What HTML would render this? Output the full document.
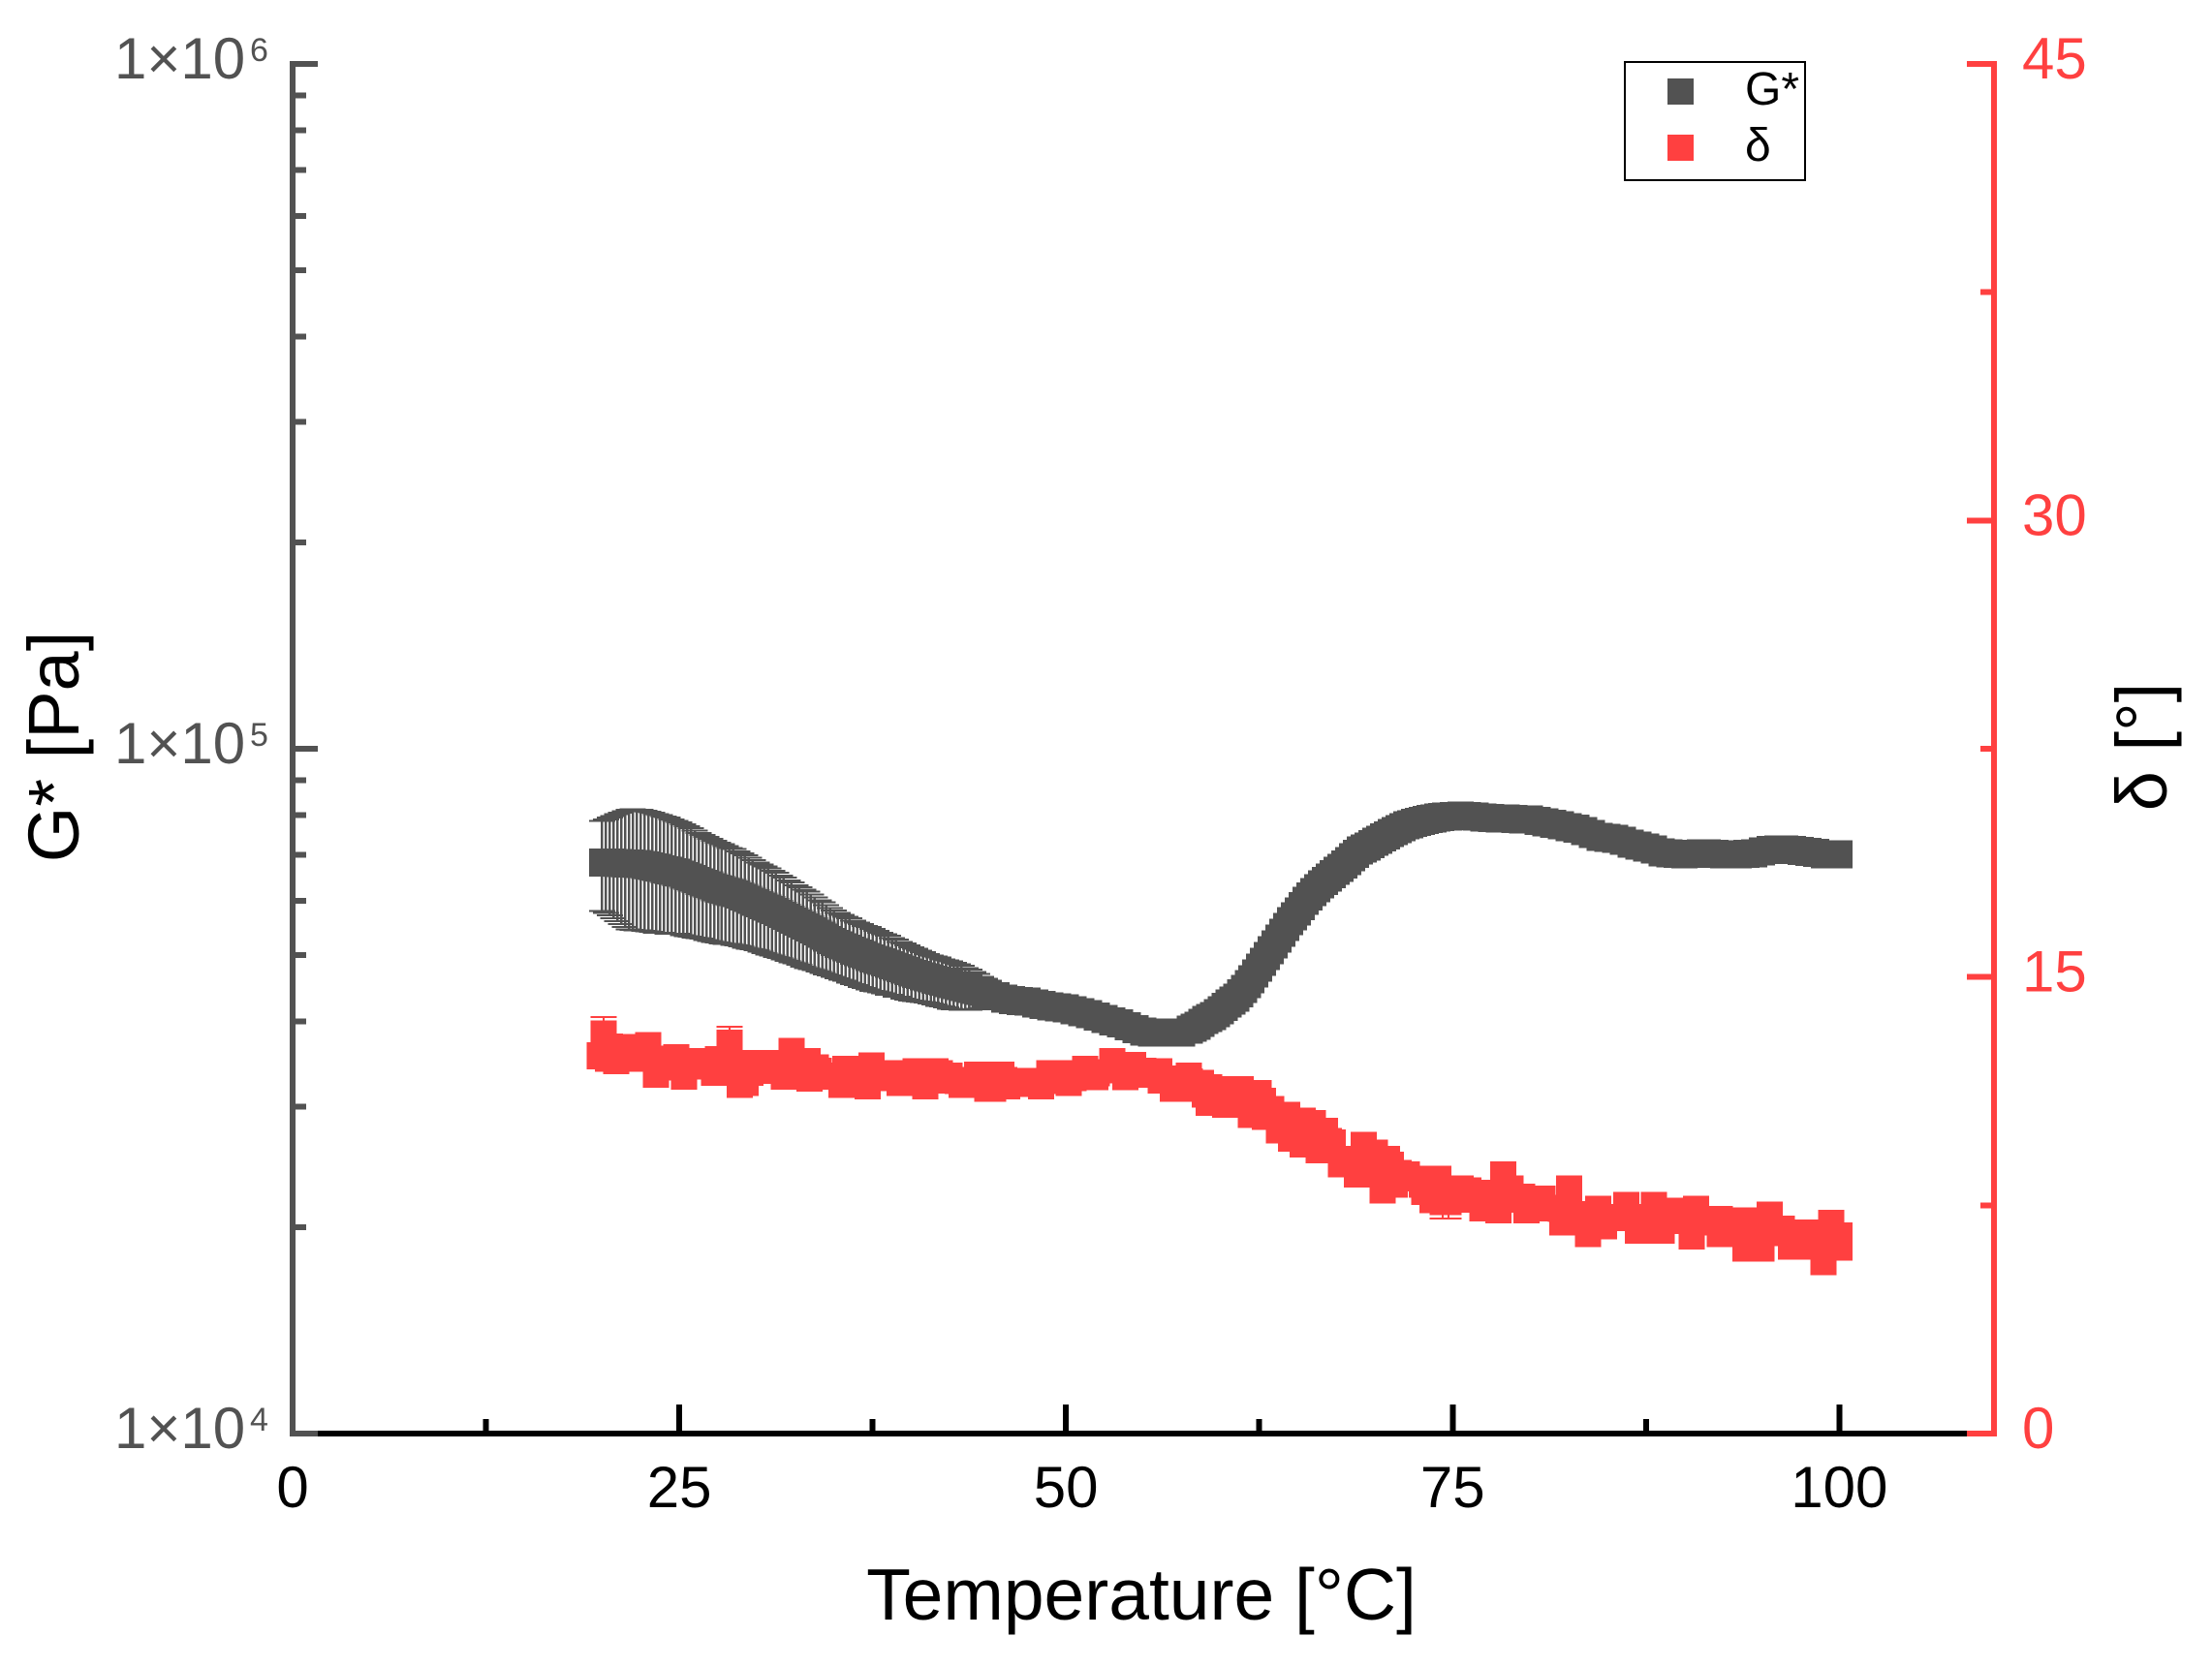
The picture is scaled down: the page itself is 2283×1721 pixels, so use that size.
<!DOCTYPE html>
<html lang="en">
<head>
<meta charset="utf-8">
<title>G* and δ versus Temperature</title>
<style>
html,body{margin:0;padding:0;background:#fff;}
svg{display:block;}
text{font-family:"Liberation Sans","DejaVu Sans",sans-serif;}
</style>
</head>
<body>
<svg id="chart" xmlns="http://www.w3.org/2000/svg" width="2283" height="1721" viewBox="0 0 2283 1721">
  <rect x="0" y="0" width="2283" height="1721" fill="#ffffff"/>
  <g id="x-axis-layer"></g>
  <g id="g-error-layer"></g>
  <g id="g-point-layer"></g>
  <g id="delta-error-layer"></g>
  <g id="delta-point-layer"></g>
  <g id="left-axis-layer"></g>
  <g id="right-axis-layer"></g>
  <text x="1178" y="1672" font-size="75" text-anchor="middle" fill="#000">Temperature [°C]</text>
  <text transform="translate(81 771) rotate(-90)" font-size="74" text-anchor="middle" fill="#000">G* [Pa]</text>
  <text transform="translate(2236 771) rotate(-90)" font-size="74" text-anchor="middle" fill="#000">δ [°]</text>
  <g>
    <rect x="1677" y="64" width="186" height="122" fill="#fff" stroke="#000" stroke-width="2"/>
    <rect x="1721" y="81" width="27" height="27" fill="#525252"/>
    <text x="1801" y="108" font-size="48" fill="#000">G*</text>
    <rect x="1721" y="139" width="27" height="27" fill="#ff4040"/>
    <text x="1801" y="166" font-size="48" fill="#000">δ</text>
  </g>
</svg>
<script>
const xMajorTicks = [0, 25, 50, 75, 100];
const xMinorTicks = [12.5, 37.5, 62.5, 87.5];
const xTickLabels = ["0", "25", "50", "75", "100"];
const leftMajorExponents = [4, 5, 6];
const leftMinorFactors = [2, 3, 4, 5, 6, 7, 8, 9];
const rightMajorTicks = [0, 15, 30, 45];
const rightMinorTicks = [7.5, 22.5, 37.5];

const gTemps = [
20,20.25,20.5,20.75,21,21.25,21.5,21.75,22,22.25,22.5,22.75,23,23.25,23.5,23.75,24,24.25,24.5,24.75,
25,25.25,25.5,25.75,26,26.25,26.5,26.75,27,27.25,27.5,27.75,28,28.25,28.5,28.75,29,29.25,29.5,29.75,
30,30.25,30.5,30.75,31,31.25,31.5,31.75,32,32.25,32.5,32.75,33,33.25,33.5,33.75,34,34.25,34.5,34.75,
35,35.25,35.5,35.75,36,36.25,36.5,36.75,37,37.25,37.5,37.75,38,38.25,38.5,38.75,39,39.25,39.5,39.75,
40,40.25,40.5,40.75,41,41.25,41.5,41.75,42,42.25,42.5,42.75,43,43.25,43.5,43.75,44,44.25,44.5,44.75,45,
45.5,46,46.5,47,47.5,48,48.5,49,49.5,50,50.5,51,51.5,52,52.5,53,53.5,54,54.5,55,55.5,56,56.5,57,57.5,
58,58.25,58.5,58.75,59,59.25,59.5,59.75,60,60.25,60.5,60.75,61,61.25,61.5,61.75,62,62.25,62.5,62.75,
63,63.25,63.5,63.75,64,64.25,64.5,64.75,65,65.25,65.5,65.75,66,66.25,66.5,66.75,67,67.25,67.5,67.75,
68,68.25,68.5,68.75,69,69.25,69.5,69.75,70,70.25,70.5,70.75,71,71.25,71.5,71.75,72,72.25,72.5,72.75,
73,73.25,73.5,73.75,74,74.25,74.5,74.75,75,
75.5,76,76.5,77,77.5,78,78.5,79,79.5,80,80.5,81,81.5,82,82.5,
83,83.5,84,84.5,85,85.5,86,86.5,87,87.5,88,88.5,89,89.5,90,90.5,91,91.5,92,92.5,93,93.5,94,94.5,95,
95.5,96,96.5,97,97.5,98,98.5,99,99.5,100];

const gValues = [
68200,68200,68200,68150,68100,68100,68000,68000,67950,67900,67860,67680,67500,67300,67100,66950,66720,66500,66290,66050,
65860,65520,65180,64840,64500,64130,63800,63460,63130,62800,62500,62250,62000,61770,61530,61250,60900,60540,60180,59820,
59470,59120,58800,58440,58100,57760,57380,57010,56640,56270,55910,55550,55190,54830,54470,54100,53710,53330,52950,52580,
52230,51920,51620,51320,51020,50720,50460,50200,49940,49680,49430,49200,48980,48760,48540,48320,48070,47820,47570,47320,
47090,46910,46730,46550,46370,46190,46010,45830,45660,45480,45320,45170,45020,44880,44730,44590,44440,44300,44160,44010,43840,
43500,43160,42950,42830,42720,42470,42260,42080,41910,41770,41500,41240,40950,40620,40310,40000,39690,39350,38970,38640,38510,38510,38490,38510,38510,
38890,39130,39390,39780,40180,40430,40700,41100,41500,41980,42470,42880,43300,43940,44590,45320,46060,46970,47900,48840,
49800,50790,51790,52810,53840,54900,55990,56900,57850,58900,59960,60850,61750,62560,63380,64100,64840,65590,66340,67040,
67750,68580,69430,70230,71040,71500,71950,72540,73140,73680,74230,74770,75320,75790,76260,76780,77310,77600,77900,78170,
78440,78680,78930,79110,79300,79460,79630,79670,79720,
79830,79720,79560,79400,79230,79090,79060,79000,78900,78800,78410,78100,77740,77310,76820,
76400,75800,75080,74380,74140,73900,73380,72700,72200,71740,71300,70610,70340,70200,70110,70200,70310,70340,70180,70110,70110,70110,70220,70340,70800,
71170,71300,71300,71150,70950,70720,70410,70110,70110,70110];

const gErrors = [
10200,10600,11100,11600,12100,12600,13100,13500,13600,13600,13600,13500,13400,13300,13200,13100,12900,12800,12600,12400,
12200,12100,11900,11700,11500,11200,11000,10900,10700,10600,10400,10300,10100,9900,9800,9600,9400,9300,9100,8900,
8700,8600,8500,8400,8200,8100,7900,7800,7600,7500,7300,7200,7100,7000,6800,6600,6400,6300,6100,5900,
5800,5700,5600,5500,5500,5400,5300,5300,5200,5200,5100,5000,4900,4800,4800,4600,4600,4400,4400,4300,
4200,4100,4000,3900,3800,3700,3700,3700,3600,3600,3600,3500,3400,3300,3100,3000,2800,2600,2300,2100,1900];

const deltaTemps = [
19.87,20.12,20.39,20.5,20.91,21.31,21.83,22,22.98,23.5,23.5,24.8,25,25.3,26.17,26.5,26.86,27.24,27.51,28,
28.26,28.91,29.28,29.5,29.6,29.93,30.08,30.6,31,31.75,32.27,32.5,33.31,33.42,33.83,34,34.34,35.5,35.5,35.75,
37,37.17,37.42,38.5,38.61,39.24,40,40.28,40.91,41.5,41.56,41.83,42.33,42.46,43,43.25,44.25,44.5,44.92,45.29,
45.82,46,46.21,47.48,47.5,48.4,48.92,49,50.18,50.35,50.5,51.24,51.89,52,52.98,53.5,53.83,54.33,54.46,55,
56.02,56.13,56.5,56.9,57.94,58,58.09,58.74,58.99,59.24,59.26,59.5,60.28,60.93,61,61.3,61.95,62.47,62.5,62.74,
62.87,63.27,63.77,64,64.29,64.54,65.31,65.31,65.5,65.96,66.35,66.73,67,67.25,67.77,68.5,68.8,69.26,69.97,70,
70.47,70.74,70.99,71.26,71.5,71.51,72.03,73,73.18,73.7,73.7,74.08,74.35,74.5,74.72,75.25,75.5,76,76.02,76.54,
76.92,77.5,77.96,78.27,78.73,79,79.5,79.76,80.5,80.53,80.8,82,82.09,82.2,82.52,83.5,83.76,84.4,84.8,85,
86.22,86.5,86.99,88,88.01,88.52,89.5,89.62,90.46,90.73,91,92.27,92.27,92.5,93.84,93.94,94,94.97,95.49,95.5,
96.28,96.89,97,97.3,97.82,98.5,98.97,99.49,99.77,100.02,100,100.02];

const deltaValues = [
12.41,13.13,12.33,12.7,12.26,12.68,12.33,12.4,12.75,11.81,12.3,12.35,12.05,11.74,12.22,12.1,12.07,11.87,12.29,12.1,
12.82,11.48,11.54,12,11.87,12.16,11.94,12.16,12,11.74,12.55,12.1,12.22,11.68,12.02,11.9,11.74,11.48,11.7,11.96,
11.75,11.42,12.08,11.7,11.83,11.54,11.65,11.89,11.42,11.65,11.89,11.83,11.61,11.75,11.6,11.48,11.77,11.55,11.35,11.35,
11.77,11.6,11.42,11.57,11.5,11.42,11.83,11.6,11.54,11.83,11.7,11.96,11.73,11.85,12.22,11.95,11.73,12.09,11.8,11.9,
11.89,11.61,11.65,11.34,11.75,11.55,11.34,11.5,11.15,10.88,11.36,11.1,10.82,11.3,11.05,11.3,10.49,11.17,10.8,10.91,
10.43,10.65,9.97,10.2,10.45,9.71,10.26,9.52,9.9,10.18,9.32,9.93,9.6,9.54,8.86,9,8.53,9.47,9.21,8.65,
8.01,9.01,8.82,8.2,8.4,8.55,8.49,8.2,7.95,8.36,7.68,8.36,7.62,8,7.62,7.88,8.03,7.7,7.97,7.9,
7.42,7.9,7.35,8.49,8.03,7.7,7.77,7.35,7.55,7.42,7.7,7.4,6.96,7.15,8.03,7.2,6.57,7.37,6.82,7.1,
7.5,7.1,6.69,7.1,7.5,6.69,7,7.31,6.5,7.37,6.95,7.04,6.57,6.8,6.98,6.1,6.55,6.1,7.17,6.6,
6.72,6.16,6.4,6.16,6.59,6.3,5.65,6.91,6.39,6.13,6.5,6.16];

const deltaErrTemps = [20.12, 28.26, 74.35, 74.72];
const deltaErrCenters = [13.13, 12.82, 7.62, 7.62];
const deltaErrSizes = [0.55, 0.55, 0.55, 0.55];

const xDomain = [0, 110];
const xRange = [302, 2058];
const leftDomainExp = [4, 6];
const rightDomain = [0, 45];
const yRange = [1480, 66];

function xPos(t) {
  return xRange[0] + (t - xDomain[0]) / (xDomain[1] - xDomain[0]) * (xRange[1] - xRange[0]);
}
function yLeft(v) {
  const f = (Math.log10(v) - leftDomainExp[0]) / (leftDomainExp[1] - leftDomainExp[0]);
  return yRange[0] + f * (yRange[1] - yRange[0]);
}
function yRight(v) {
  const f = (v - rightDomain[0]) / (rightDomain[1] - rightDomain[0]);
  return yRange[0] + f * (yRange[1] - yRange[0]);
}

const NS = "http://www.w3.org/2000/svg";
const GRAY = "#525252";
const RED = "#ff4040";
const MARK_W = 27;
const MARK_H = 28;
const G_MARK_H = 29;

function makeRect(parent, x, y, w, h, fill) {
  const el = document.createElementNS(NS, "rect");
  el.setAttribute("x", x);
  el.setAttribute("y", y);
  el.setAttribute("width", w);
  el.setAttribute("height", h);
  el.setAttribute("fill", fill);
  el.setAttribute("shape-rendering", "crispEdges");
  parent.appendChild(el);
  return el;
}
function makeText(parent, x, y, size, fill, anchor, content) {
  const el = document.createElementNS(NS, "text");
  el.setAttribute("x", x);
  el.setAttribute("y", y);
  el.setAttribute("font-size", size);
  el.setAttribute("fill", fill);
  el.setAttribute("text-anchor", anchor);
  el.textContent = content;
  parent.appendChild(el);
  return el;
}

/* x axis */
const xLayer = document.getElementById("x-axis-layer");
const xLine = makeRect(xLayer, xRange[0], 1477, xRange[1] - xRange[0], 6, "#000");


xMajorTicks.forEach(function (t, i) {
  const tick = makeRect(xLayer, xPos(t) - 3, 1450, 6, 30, "#000");
  
  
  const label = makeText(xLayer, xPos(t), 1556, 60, "#000", "middle", xTickLabels[i]);
  
  
});
xMinorTicks.forEach(function (t) {
  const tick = makeRect(xLayer, xPos(t) - 3, 1465, 6, 15, "#000");
  
  
});

/* left axis */
const leftLayer = document.getElementById("left-axis-layer");
const leftSpine = makeRect(leftLayer, 299, 63, 6, 1420, GRAY);


leftMajorExponents.forEach(function (e) {
  const y = yLeft(Math.pow(10, e));
  const tick = makeRect(leftLayer, 299, y - 3, 29, 6, GRAY);
  
  
  const label = makeText(leftLayer, 118, y + 15, 60, GRAY, "start", "1×10");
  
  
  const sup = makeText(leftLayer, 258, y - 3, 34, GRAY, "start", String(e));
  
  
  if (e < leftDomainExp[1]) {
    leftMinorFactors.forEach(function (f) {
      const minor = makeRect(leftLayer, 299, yLeft(f * Math.pow(10, e)) - 3, 17, 6, GRAY);
      
      
    });
  }
});

/* right axis */
const rightLayer = document.getElementById("right-axis-layer");
const rightSpine = makeRect(rightLayer, 2055, 63, 6, 1420, RED);


rightMajorTicks.forEach(function (v) {
  const y = yRight(v);
  const tick = makeRect(rightLayer, 2030, y - 3, 31, 6, RED);
  
  
  const label = makeText(rightLayer, 2087, y + 15, 60, RED, "start", String(v));
  
  
});
rightMinorTicks.forEach(function (v) {
  const tick = makeRect(rightLayer, 2044, yRight(v) - 3, 17, 6, RED);
  
  
});

/* G* error bars */
const gErrLayer = document.getElementById("g-error-layer");
gErrors.forEach(function (err, i) {
  const cx = xPos(gTemps[i]);
  const top = yLeft(gValues[i] + err);
  const bottom = yLeft(gValues[i] - err);
  const stem = makeRect(gErrLayer, cx - 1.25, top, 2.5, bottom - top, GRAY);
  
  
  const capTop = makeRect(gErrLayer, cx - MARK_W / 2, top - 1, MARK_W, 2, GRAY);
  
  
  const capBottom = makeRect(gErrLayer, cx - MARK_W / 2, bottom - 1, MARK_W, 2, GRAY);
  
  
});

/* G* markers */
const gLayer = document.getElementById("g-point-layer");
gValues.forEach(function (v, i) {
  const m = makeRect(gLayer, xPos(gTemps[i]) - MARK_W / 2, yLeft(v) - G_MARK_H / 2, MARK_W, G_MARK_H, GRAY);
  
  
});

/* delta error bars */
const dErrLayer = document.getElementById("delta-error-layer");
deltaErrSizes.forEach(function (err, i) {
  const cx = xPos(deltaErrTemps[i]);
  const top = yRight(deltaErrCenters[i] + err);
  const bottom = yRight(deltaErrCenters[i] - err);
  const stem = makeRect(dErrLayer, cx - 1, top, 2, bottom - top, RED);
  
  
  const capTop = makeRect(dErrLayer, cx - MARK_W / 2, top - 1, MARK_W, 2, RED);
  
  
  const capBottom = makeRect(dErrLayer, cx - MARK_W / 2, bottom - 1, MARK_W, 2, RED);
  
  
});

/* delta markers */
const dLayer = document.getElementById("delta-point-layer");
deltaValues.forEach(function (v, i) {
  const m = makeRect(dLayer, xPos(deltaTemps[i]) - MARK_W / 2, yRight(v) - MARK_H / 2, MARK_W, MARK_H, RED);
  
  
});
</script>
</body>
</html>
